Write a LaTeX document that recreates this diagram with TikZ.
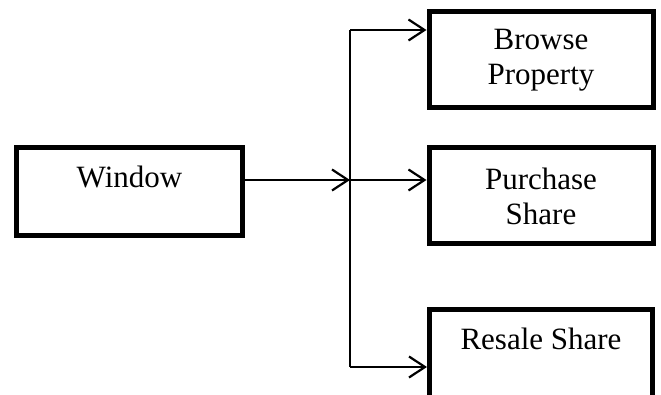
\documentclass[tikz,border=0pt]{standalone}
\usepackage{fontspec}
\setmainfont{Liberation Serif}
\usepackage{tikz}
\usetikzlibrary{positioning, arrows.meta, calc}

\begin{document}
\begin{tikzpicture}[
    x=1pt, y=-1pt,
    >={Straight Barb[length=16pt,width=21pt,line width=2.2pt]},
    box/.style={rectangle, draw=black, line width=5pt, align=center, minimum width=224pt, minimum height=96pt, font=\fontsize{31}{35}\selectfont},
    single/.style={box, minimum width=226pt, minimum height=88pt, text height=20pt, text depth=28pt},
    link/.style={line width=2.2pt}
]
\useasboundingbox (0,0) rectangle (661,395);

% Nodes
\node[single] (window) at (129.5,191.5) {Window};
\node[box] (browse) at (541,60) {Browse\\Property};
\node[box] (purchase) at (541,196) {Purchase\\Share};
\node[single, minimum width=223pt] (resale) at (541,353.5) {Resale Share};

% Branch points on the vertical bus
\coordinate (bustop) at (350,30);
\coordinate (busmid) at (350,180);
\coordinate (busbot) at (350,367);

% Connectors
\draw[link, ->] ([yshift=11.5pt] window.east) -- (busmid);
\draw[link] (bustop) -- (busbot);
\draw[link, ->] (bustop) -- (bustop -| browse.west);
\draw[link, ->] (busmid) -- (busmid -| purchase.west);
\draw[link, ->] (busbot) -- (busbot -| resale.west);

\end{tikzpicture}
\end{document}
